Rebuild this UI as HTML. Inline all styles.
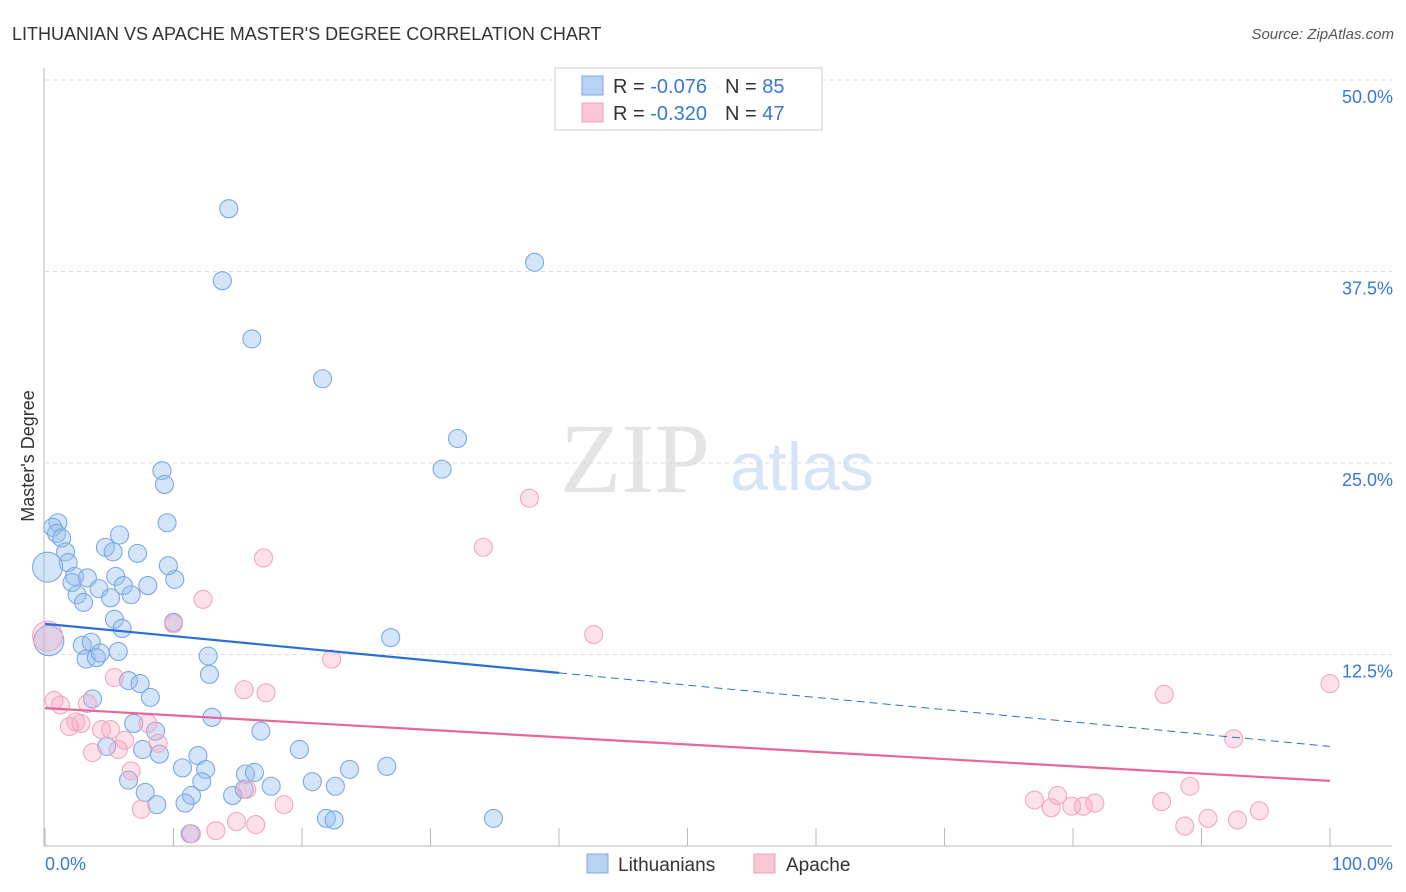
<!DOCTYPE html>
<html><head><meta charset="utf-8">
<style>
body{margin:0;background:#fff;font-family:"Liberation Sans",sans-serif;}
svg{display:block}
</style></head>
<body>
<svg id="chart" width="1406" height="892" xmlns="http://www.w3.org/2000/svg">
<text x="12" y="40" font-size="18" fill="#333">LITHUANIAN VS APACHE MASTER'S DEGREE CORRELATION CHART</text>
<text x="1394" y="39" font-size="15" fill="#555" font-style="italic" text-anchor="end">Source: ZipAtlas.com</text>
<text x="635" y="492" font-size="100" fill="#e4e4e4" font-family="Liberation Serif,serif" text-anchor="middle">ZIP</text>
<text x="802" y="490" font-size="68" fill="#d6e4f6" text-anchor="middle">atlas</text>
<g id="grid"></g>
<g id="axes"></g>
<g id="marks"></g>
<g>
<rect x="555" y="68" width="267" height="62" fill="#fff" stroke="#ccc"/>
<rect x="582" y="76" width="21" height="19" fill="#b8d2f4" stroke="#7fa8e0"/>
<rect x="582" y="103" width="21" height="19" fill="#f9c6d5" stroke="#f0a0b8"/>
<text x="613" y="93" font-size="20" fill="#333">R = <tspan fill="#3a78d4">-0.076</tspan><tspan dx="18">N = </tspan><tspan fill="#3a78d4">85</tspan></text>
<text x="613" y="120" font-size="20" fill="#333">R = <tspan fill="#3a78d4">-0.320</tspan><tspan dx="18">N = </tspan><tspan fill="#3a78d4">47</tspan></text>
</g>
<g>
<rect x="587" y="854" width="21" height="19" fill="#b8d2f4" stroke="#7fa8e0"/>
<text x="618" y="871" font-size="19" fill="#333">Lithuanians</text>
<rect x="754" y="854" width="21" height="19" fill="#f9c6d5" stroke="#f0a0b8"/>
<text x="786" y="871" font-size="19" fill="#333">Apache</text>
</g>
<text transform="translate(34,456) rotate(-90)" font-size="18" fill="#333" text-anchor="middle">Master's Degree</text>
</svg>
<script>
const yTicks=[12.5,25,37.5,50];
const yTickLabels=["12.5%","25.0%","37.5%","50.0%"];
const xTicks=[0,10,20,30,40,50,60,70,80,90,100];
const blueX=[14.3,13.8,16.1,21.6,38.1,32.1,30.9,9.1,9.3,9.5,1.0,0.6,0.9,1.3,1.6,1.8,0.2,4.7,5.8,7.2,2.3,2.1,3.3,4.2,5.5,6.1,6.7,8.0,10.1,9.6,2.5,3.0,5.1,5.4,6.0,10.0,2.9,3.6,3.2,4.0,4.3,5.7,0.3,12.7,12.8,6.5,7.4,8.2,3.7,13.0,6.9,8.6,4.8,16.8,7.6,8.9,11.9,19.8,26.9,10.7,12.5,15.6,16.3,23.7,26.6,6.5,12.2,17.6,20.8,22.6,7.8,11.4,14.6,8.7,10.9,15.5,21.9,22.5,34.9,11.3,5.3];
const blueY=[41.6,36.9,33.1,30.5,38.1,26.6,24.6,24.5,23.6,21.1,21.1,20.8,20.4,20.1,19.2,18.5,18.2,19.5,20.3,19.1,17.6,17.2,17.5,16.8,17.6,17.0,16.4,17.0,17.4,18.3,16.4,15.9,16.2,14.8,14.2,14.6,13.1,13.3,12.2,12.3,12.6,12.7,13.4,12.4,11.2,10.8,10.6,9.7,9.6,8.4,8.0,7.5,6.5,7.5,6.3,6.0,5.9,6.3,13.6,5.1,5.0,4.7,4.8,5.0,5.2,4.3,4.2,3.9,4.2,3.9,3.5,3.3,3.3,2.7,2.8,3.7,1.8,1.7,1.8,0.8,19.2];
const blueBig=[16,42];
const pinkX=[37.7,34.1,17.0,12.3,10.0,42.7,22.3,0.2,15.5,17.2,0.7,1.2,2.4,2.8,1.9,3.3,5.4,4.4,5.1,6.2,5.7,3.7,8.8,8.0,6.7,15.7,18.6,7.5,14.9,16.4,11.4,13.3,87.1,100,92.5,89.1,77.0,78.8,78.3,79.9,80.8,81.7,86.9,88.7,90.5,92.8,94.5];
const pinkY=[22.7,19.5,18.8,16.1,14.5,13.8,12.2,13.7,10.2,10.0,9.5,9.2,8.1,8.0,7.8,9.3,11.0,7.6,7.6,6.9,6.3,6.1,6.7,8.0,4.9,3.7,2.7,2.4,1.6,1.4,0.8,1.0,9.9,10.6,7.0,3.9,3.0,3.3,2.5,2.6,2.6,2.8,2.9,1.3,1.8,1.7,2.3];
const pinkBig=[7];
const blueTrend=[14.5,6.5];
const pinkTrend=[9.0,4.25];
const blueSolidEnd=40;

const X=v=>45+v*12.85;
const Y=v=>846-v*15.32;
const NS="http://www.w3.org/2000/svg";
function mk(tag,attrs,parent){const e=document.createElementNS(NS,tag);for(const k in attrs)e.setAttribute(k,attrs[k]);parent.appendChild(e);return e;}
const grid=document.getElementById('grid'),axes=document.getElementById('axes'),marks=document.getElementById('marks');
yTicks.forEach((t,i)=>{
  const l=mk('line',{x1:45,x2:1392,y1:Y(t),y2:Y(t),stroke:'#ddd','stroke-dasharray':'4,4'},grid);
  
  
  const tx=mk('text',{x:1393,y:Y(t)+23,'font-size':18,fill:'#3a78d4','text-anchor':'end'},grid);
  tx.textContent=yTickLabels[i];
  
  
});
const ax=mk('line',{x1:44,x2:44,y1:68,y2:846,stroke:'#bbb'},axes);


const bx=mk('line',{x1:44,x2:1392,y1:846,y2:846,stroke:'#bbb'},axes);


xTicks.forEach(t=>{
  const l=mk('line',{x1:X(t),x2:X(t),y1:828,y2:846,stroke:'#bbb'},axes);
  
  
});
const x0=mk('text',{x:45,y:870,'font-size':18,fill:'#3a78d4'},axes);x0.textContent='0.0%';


const x1=mk('text',{x:1393,y:870,'font-size':18,fill:'#3a78d4','text-anchor':'end'},axes);x1.textContent='100.0%';



function pts(xs,ys,big,fill,stroke,name){
  xs.forEach((v,i)=>{
    const c=mk('circle',{cx:X(v),cy:Y(ys[i]),r:big.includes(i)?15:9,fill:fill,stroke:stroke,'stroke-width':1.1},marks);
    
    
  });
}
pts(blueX,blueY,blueBig,'rgba(150,190,240,0.4)','#7ca8e4','lithuanian-point');
pts(pinkX,pinkY,pinkBig,'rgba(245,170,195,0.35)','#f2a8be','apache-point');
const bt=v=>blueTrend[0]+(blueTrend[1]-blueTrend[0])*v/100;
const l1=mk('line',{x1:X(0),y1:Y(bt(0)),x2:X(blueSolidEnd),y2:Y(bt(blueSolidEnd)),stroke:'#2d6fd6','stroke-width':2.2},marks);


const l2=mk('line',{x1:X(blueSolidEnd),y1:Y(bt(blueSolidEnd)),x2:X(100),y2:Y(bt(100)),stroke:'#2d6fd6','stroke-width':1,'stroke-dasharray':'8,5'},marks);


const l3=mk('line',{x1:X(0),y1:Y(pinkTrend[0]),x2:X(100),y2:Y(pinkTrend[1]),stroke:'#e8679a','stroke-width':2.2},marks);


</script>
</body></html>
